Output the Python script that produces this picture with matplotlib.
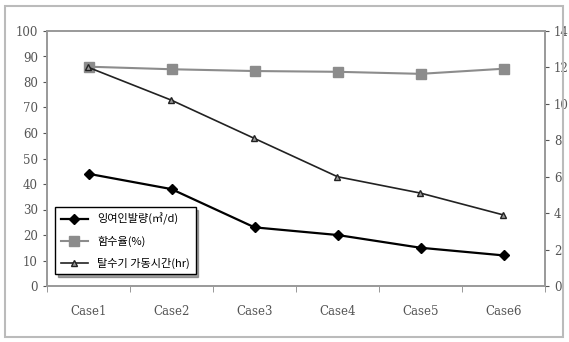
import matplotlib.pyplot as plt
from matplotlib.patches import Rectangle
import numpy as np

cases = ["Case1", "Case2", "Case3", "Case4", "Case5", "Case6"]
sludge = [44, 38, 23, 20, 15, 12]            # left axis
water = [86, 85, 84.3, 84, 83.2, 85.2]       # left axis
hours = [12.0, 10.2, 8.1, 6.0, 5.1, 3.9]     # right axis
labels = ["잉여인발량(㎥/d)", "함수율(%)", "탈수기 가동시간(hr)"]

plt.rcParams['font.family'] = ['Noto Sans CJK KR', 'DejaVu Sans']

fig = plt.figure(figsize=(5.69, 3.42), dpi=100)
fig.patches.append(Rectangle((0.009, 0.015), 0.981, 0.968, transform=fig.transFigure,
                             fill=False, edgecolor='#bbbbbb', linewidth=1.5))

ax = fig.add_axes([47/569, 1 - 286/342, (545 - 47)/569, (286 - 31)/342])
ax2 = ax.twinx()
x = np.arange(len(cases))

l1, = ax.plot(x, sludge, color='black', marker='D', markersize=5, linewidth=1.6)
l2, = ax.plot(x, water, color='#8c8c8c', marker='s', markersize=7, linewidth=1.5)
l3, = ax2.plot(x, hours, color='#222222', marker='^', markersize=4, linewidth=1.2,
               markerfacecolor='#999999')

ax.set_xlim(-0.5, 5.5)
ax.set_ylim(0, 100)
ax.set_yticks(range(0, 101, 10))
ax2.set_ylim(0, 14)
ax2.set_yticks(range(0, 15, 2))
ax.set_xticks(x)
ax.set_xticklabels(cases)
ax.set_xticks(np.arange(-0.5, 6, 1), minor=True)
ax.tick_params(axis='x', which='major', length=0, pad=14)
ax.tick_params(axis='x', which='minor', length=4, color='#888888')

for a in (ax, ax2):
    for s in a.spines.values():
        s.set_color('#999999')
        s.set_linewidth(1.2)
    a.tick_params(axis='y', colors='#555555', labelsize=8.5, length=3)
    for t in a.get_yticklabels():
        t.set_family('DejaVu Serif')
ax.tick_params(axis='x', colors='#555555', labelsize=8.5)
for t in ax.get_xticklabels():
    t.set_family('DejaVu Serif')

leg = ax.legend([l1, l2, l3], labels, loc='lower left', bbox_to_anchor=(0.005, 0.025),
                fontsize=8, frameon=True, fancybox=False, shadow=True,
                edgecolor='black', handlelength=2.5, borderpad=0.5, labelspacing=0.95)
leg.get_frame().set_linewidth(1.0)
leg.set_zorder(10)

fig.savefig("out.png", dpi=100)
